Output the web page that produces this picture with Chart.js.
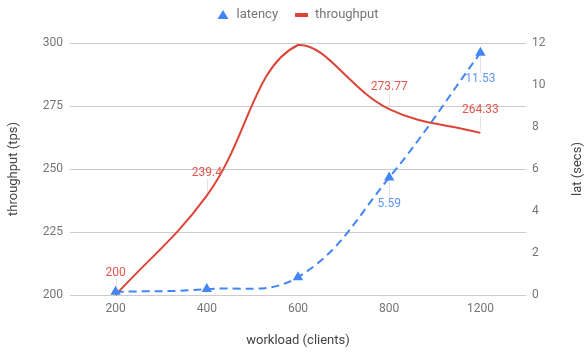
<!DOCTYPE html>
<html><head><meta charset="utf-8">
<script src="https://cdn.jsdelivr.net/npm/chart.js@4/dist/chart.umd.min.js"></script>
<style>html,body{margin:0;padding:0;background:#fff}#wrap{width:584px;height:354px}</style>
</head><body><div id="wrap"><canvas id="c" width="584" height="354"></canvas></div>
<script>
const categories = ['200', '400', '600', '800', '1200'];
const latency = [0.15, 0.28, 0.85, 5.59, 11.53];
const throughput = [200, 239.4, 299.2, 273.77, 264.33];
const latencyLabels = [null, null, null, '5.59', '11.53'];
const throughputLabels = ['200', '239.4', null, '273.77', '264.33'];
const throughputTicks = [200, 225, 250, 275, 300];
const latencyTicks = [0, 2, 4, 6, 8, 10, 12];
const seriesNames = ['latency', 'throughput'];
const xTitle = 'workload (clients)';
const yLeftTitle = 'throughput (tps)';
const yRightTitle = 'lat (secs)';

const BLUE = '#4285f4', RED = '#db4437';
const BLUE_TXT = '#5f97f6', RED_TXT = '#e2574b';
const FONT = 'Roboto, "Noto Sans", sans-serif';

const legendPlugin = {
  id: 'gLegend',
  afterDraw(chart) {
    const ctx = chart.ctx, ca = chart.chartArea;
    ctx.save();
    ctx.font = '13px ' + FONT;
    ctx.textBaseline = 'middle';
    ctx.textAlign = 'left';
    const w1 = ctx.measureText(seriesNames[0]).width;
    const w2 = ctx.measureText(seriesNames[1]).width;
    const total = 11 + 8 + w1 + 17 + 13 + 7 + w2;
    let x = (ca.left + ca.right) / 2 - total / 2;
    const y = 15;
    ctx.fillStyle = BLUE;
    ctx.beginPath();
    ctx.moveTo(x + 5.5, y - 5);
    ctx.lineTo(x + 11, y + 4);
    ctx.lineTo(x, y + 4);
    ctx.closePath();
    ctx.fill();
    x += 19;
    ctx.fillStyle = '#757575';
    ctx.fillText(seriesNames[0], x, y);
    x += w1 + 17;
    ctx.fillStyle = RED;
    ctx.fillRect(x, y - 2, 13, 4);
    x += 20;
    ctx.fillStyle = '#757575';
    ctx.fillText(seriesNames[1], x, y);
    ctx.save();
    ctx.translate(578, (ca.top + ca.bottom) / 2);
    ctx.rotate(-Math.PI / 2);
    ctx.textAlign = 'center';
    ctx.fillStyle = '#444';
    ctx.fillText(yRightTitle, 0, 0);
    ctx.restore();
    ctx.restore();
  }
};

const annotationPlugin = {
  id: 'gAnnot',
  afterDatasetsDraw(chart) {
    const ctx = chart.ctx;
    ctx.save();
    ctx.font = '12px ' + FONT;
    ctx.textAlign = 'center';
    ctx.textBaseline = 'middle';
    chart.data.datasets.forEach((ds, di) => {
      const meta = chart.getDatasetMeta(di);
      const labels = ds.annotations;
      const dir = ds.annotationDir;
      meta.data.forEach((pt, i) => {
        const lab = labels[i];
        if (!lab) return;
        const ty = pt.y + dir * (dir < 0 ? 22.5 : 26);
        ctx.strokeStyle = 'rgba(153,153,153,0.28)';
        ctx.lineWidth = 1;
        ctx.beginPath();
        ctx.moveTo(Math.round(pt.x) + 0.5, pt.y + dir * 3);
        ctx.lineTo(Math.round(pt.x) + 0.5, ty - dir * 6);
        ctx.stroke();
        ctx.fillStyle = ds.annotationColor;
        ctx.fillText(lab, pt.x, ty);
      });
    });
    ctx.restore();
  }
};

new Chart(document.getElementById('c'), {
  type: 'line',
  data: {
    labels: categories,
    datasets: [
      {
        label: seriesNames[0], data: latency, yAxisID: 'yR',
        borderColor: BLUE, backgroundColor: BLUE, borderWidth: 2,
        borderDash: [8, 5], tension: 0.4,
        pointStyle: 'triangle', pointRadius: 6, pointHoverRadius: 6, pointBorderWidth: 0,
        annotations: latencyLabels, annotationDir: 1, annotationColor: BLUE_TXT, clip: false
      },
      {
        label: seriesNames[1], data: throughput, yAxisID: 'yL',
        borderColor: RED, backgroundColor: RED, borderWidth: 2,
        tension: 0.4, pointRadius: 0, pointHoverRadius: 0,
        annotations: throughputLabels, annotationDir: -1, annotationColor: RED_TXT, clip: false
      }
    ]
  },
  options: {
    responsive: false, animation: false,
    layout: { padding: { top: 43, left: 0, right: 0, bottom: 0 } },
    plugins: { legend: { display: false }, tooltip: { enabled: false } },
    scales: {
      x: {
        offset: true,
        grid: { display: false, drawTicks: false },
        border: { display: false },
        ticks: { color: '#757575', font: { family: FONT, size: 12 }, padding: 7, maxRotation: 0 },
        title: { display: true, text: xTitle, color: '#444', font: { family: FONT, size: 13 }, padding: { top: 0, bottom: 5 } },
        afterFit(s) { s.height = 59; }
      },
      yL: {
        position: 'left', min: 200, max: 300,
        afterBuildTicks(s) { s.ticks = throughputTicks.map(v => ({ value: v })); },
        grid: { color: '#cccccc', drawTicks: false, lineWidth: 1 },
        border: { display: false },
        ticks: { color: '#757575', font: { family: FONT, size: 12 }, padding: 7 },
        title: { display: true, text: yLeftTitle, color: '#444', font: { family: FONT, size: 13 }, padding: { top: 6, bottom: 0 } },
        afterFit(s) { s.width = 70; }
      },
      yR: {
        position: 'right', min: 0, max: 12,
        afterBuildTicks(s) { s.ticks = latencyTicks.map(v => ({ value: v })); },
        grid: { display: false, drawTicks: false },
        border: { display: false },
        ticks: { color: '#757575', font: { family: FONT, size: 12 }, padding: 6 },
        afterFit(s) { s.width = 58; }
      }
    }
  },
  plugins: [legendPlugin, annotationPlugin]
});
</script>
</body></html>
